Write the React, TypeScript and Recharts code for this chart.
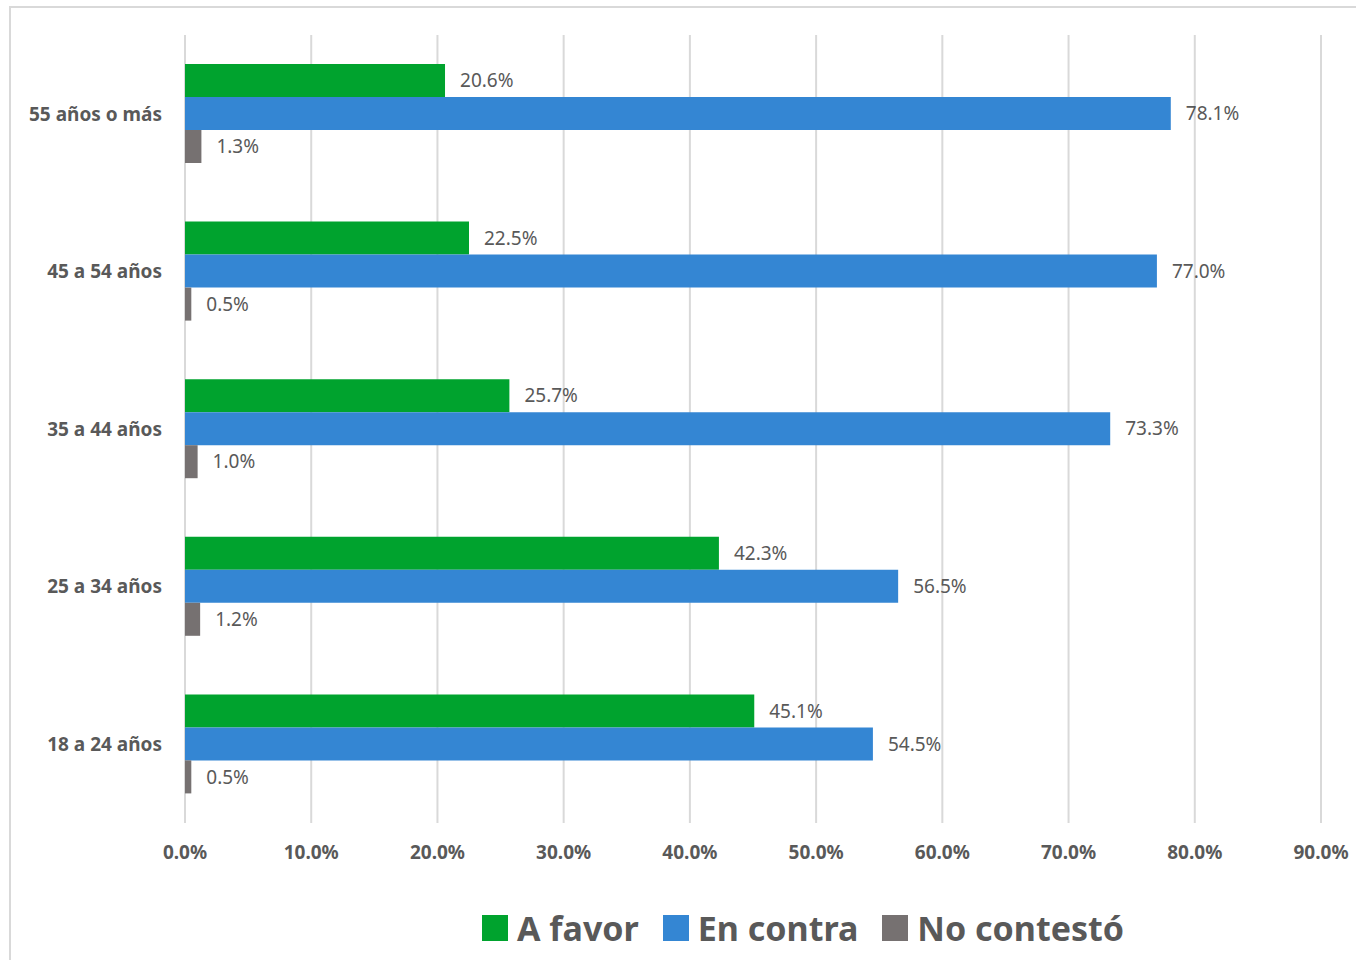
import React from 'react';
import {
  BarChart,
  Bar,
  XAxis,
  YAxis,
  CartesianGrid,
  Legend,
  LabelList,
} from 'recharts';

const GROUPS = ['55 años o más', '45 a 54 años', '35 a 44 años', '25 a 34 años', '18 a 24 años'];
const A_FAVOR = [20.6, 22.5, 25.7, 42.3, 45.1];
const EN_CONTRA = [78.1, 77.0, 73.3, 56.5, 54.5];
const NO_CONTESTO = [1.3, 0.5, 1.0, 1.2, 0.5];
const X_TICKS = [0, 10, 20, 30, 40, 50, 60, 70, 80, 90];

const SERIES = [
  { key: 'favor', name: 'A favor', color: '#00a32e' },
  { key: 'contra', name: 'En contra', color: '#3486d3' },
  { key: 'nc', name: 'No contestó', color: '#767171' },
];

const FONT = '"Noto Sans", "Open Sans", sans-serif';
const TEXT = '#595959';

type Row = { group: string; favor: number; contra: number; nc: number };

const rows: Row[] = GROUPS.map((group, i) => ({
  group,
  favor: A_FAVOR[i],
  contra: EN_CONTRA[i],
  nc: NO_CONTESTO[i],
}));

const pct = (v: number) => `${Number(v).toFixed(1)}%`;

const renderLegend = (props: any) => {
  const payload = props.payload || [];
  return (
    <div
      style={{
        display: 'flex',
        alignItems: 'center',
        fontFamily: FONT,
        fontWeight: 700,
        fontSize: 34,
        lineHeight: '44px',
        color: TEXT,
        whiteSpace: 'nowrap',
      }}
    >
      {payload.map((entry: any) => (
        <div key={entry.value} style={{ display: 'flex', alignItems: 'center', marginRight: 24 }}>
          <span
            style={{ display: 'inline-block', width: 26, height: 26, background: entry.color, marginRight: 9 }}
          />
          <span>{entry.value}</span>
        </div>
      ))}
    </div>
  );
};

export default function App() {
  const tickStyle = { fill: TEXT, fontSize: 19, fontWeight: 700, fontFamily: FONT };
  return (
    <div
      style={{
        position: 'absolute',
        left: 8,
        top: 6,
        width: 1348,
        height: 954,
        overflow: 'hidden',
        background: '#fff',
      }}
    >
      {/* chart frame */}
      <div
        style={{
          position: 'absolute',
          left: 1,
          top: 0,
          width: 1400,
          height: 1000,
          border: '2px solid #d9d9d9',
          boxSizing: 'border-box',
        }}
      />
      <div style={{ position: 'absolute', left: 0, top: 2 }}>
        <BarChart
          width={1348}
          height={952}
          data={rows}
          layout="vertical"
          barGap={0}
          margin={{ top: 27, right: 35, bottom: 0, left: 0 }}
          style={{ fontFamily: FONT }}
        >
          <CartesianGrid horizontal={false} stroke="#d9d9d9" strokeWidth={2} />
          <XAxis
            type="number"
            domain={[0, 90]}
            ticks={X_TICKS}
            tickFormatter={pct}
            axisLine={false}
            tickLine={false}
            tickSize={0}
            tickMargin={23}
            height={137}
            tick={tickStyle}
            interval={0}
          />
          <YAxis
            type="category"
            dataKey="group"
            width={177}
            axisLine={false}
            tickLine={false}
            tickSize={0}
            tickMargin={23}
            tick={tickStyle}
          />
          <Legend
            layout="horizontal"
            verticalAlign="middle"
            align="center"
            content={renderLegend}
            wrapperStyle={{ left: 474, top: 898, width: 'auto', height: 44 }}
          />
          {SERIES.map((s) => (
            <Bar key={s.key} dataKey={s.key} name={s.name} fill={s.color} barSize={33} isAnimationActive={false}>
              <LabelList
                dataKey={s.key}
                position="right"
                offset={15}
                formatter={(v: any) => pct(v)}
                style={{ fill: TEXT, fontSize: 19, fontFamily: FONT, fontWeight: 400 }}
              />
            </Bar>
          ))}
        </BarChart>
      </div>
    </div>
  );
}
